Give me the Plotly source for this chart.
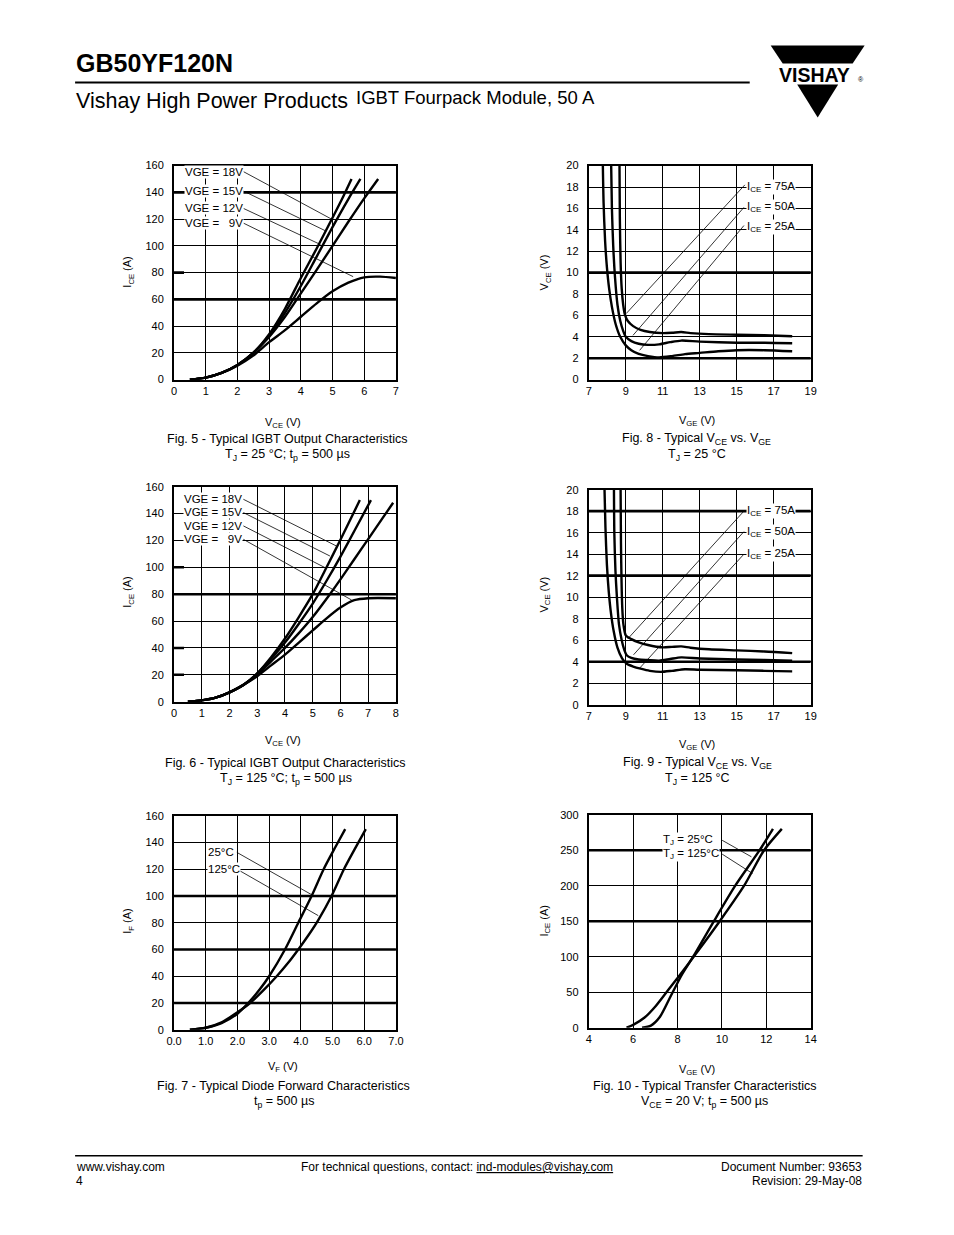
import plotly.graph_objects as go

W, H = 938, 1219
# measured mapping between figure pixels and the photographed page
SX, SY, OFF = 0.9835, 0.99, 8
DY = 2.5
FONT = "Liberation Sans, Arial, Helvetica, sans-serif"

# ---------------- data ----------------
# Fig 5: IGBT output, Tj = 25 C
f5_vce = {
    "18V": [0.5, 1.0, 1.5, 2.0, 2.5, 3.0, 3.5, 4.0, 4.5, 5.0, 5.3, 5.6],
    "15V": [0.5, 1.0, 1.5, 2.0, 2.5, 3.0, 3.5, 4.0, 4.5, 5.0, 5.5, 5.88],
    "12V": [0.5, 1.0, 1.5, 2.0, 2.5, 3.0, 3.5, 4.0, 4.5, 5.0, 5.5, 6.0, 6.44],
    "9V":  [0.5, 1.0, 1.5, 2.0, 2.5, 3.0, 3.5, 4.0, 4.5, 5.0, 5.5, 6.0, 6.5, 7.0],
}
f5_ice = {
    "18V": [0, 1.5, 5, 11, 20, 34, 53, 76, 98, 121, 135, 150],
    "15V": [0, 1.5, 5, 11, 20, 33, 50, 70, 92, 114, 135, 150],
    "12V": [0, 1.5, 5, 11, 20, 32, 47, 64.5, 82, 100, 118, 135.5, 150],
    "9V":  [0, 1.5, 5, 10.5, 18, 28, 37, 47, 57, 66, 72.5, 76.5, 77, 76],
}
# Fig 6: IGBT output, Tj = 125 C
f6_vce = {
    "18V": [0.5, 1.0, 1.5, 2.0, 2.5, 3.0, 3.5, 4.0, 4.5, 5.0, 5.5, 6.0, 6.7],
    "15V": [0.5, 1.0, 1.5, 2.0, 2.5, 3.0, 3.5, 4.0, 4.5, 5.0, 5.5, 6.0, 6.5, 7.1],
    "12V": [0.5, 1.0, 1.5, 2.0, 2.5, 3.0, 3.5, 4.0, 4.5, 5.0, 5.62, 6.0, 6.5, 7.0, 7.5, 7.9],
    "9V":  [0.5, 1.0, 1.5, 2.0, 2.5, 3.0, 3.5, 4.0, 4.5, 5.0, 5.5, 6.0, 6.5, 7.0, 8.0],
}
f6_ice = {
    "18V": [0, 1, 3, 7, 12.5, 21, 33, 47, 63, 80, 100, 120.5, 150],
    "15V": [0, 1, 3, 7, 12.5, 21, 32, 44, 58, 73, 90, 108, 127, 150],
    "12V": [0, 1, 3, 7, 12.5, 20, 30, 40, 51, 63, 80, 91, 106, 121, 136, 148],
    "9V":  [0, 1, 3, 7, 12.5, 19, 27, 35, 44, 53, 62, 70, 75.5, 77, 77],
}
# Fig 7: diode forward
f7_vf = {
    "25°C":  [0.5, 1.0, 1.5, 2.0, 2.34, 2.7, 3.0, 3.5, 3.92, 4.34, 4.72, 5.1, 5.4],
    "125°C": [0.5, 1.0, 1.5, 2.0, 2.4, 2.8, 3.24, 3.6, 3.92, 4.25, 4.55, 4.97, 5.36, 5.7, 6.05],
}
f7_if = {
    "25°C":  [0, 1.5, 5, 12, 20, 30, 40, 60, 80, 100, 120, 137, 150],
    "125°C": [0, 1.5, 5.5, 13, 20, 29, 40, 50, 60, 71, 82, 100, 120, 135, 150],
}
# Fig 8: VCE vs VGE, Tj = 25 C
f8_vge = {
    "75A": [8.66, 8.68, 8.72, 8.78, 8.86, 8.95, 9.1, 9.4, 9.8, 10.3, 11, 11.5, 12, 12.5, 13.5, 15, 16.5, 18],
    "50A": [8.21, 8.25, 8.32, 8.42, 8.55, 8.7, 8.85, 9.0, 9.3, 9.7, 10.2, 10.8, 11.4, 12, 13, 15, 16.5, 18],
    "25A": [7.76, 7.8, 7.88, 7.98, 8.1, 8.25, 8.45, 8.7, 9.0, 9.3, 9.7, 10.2, 10.8, 11.5, 12.2, 13, 14, 15, 16.5, 18],
}
f8_vce = {
    "75A": [20, 15, 11, 8.5, 7, 6.1, 5.5, 5.0, 4.65, 4.45, 4.35, 4.38, 4.45, 4.35, 4.25, 4.2, 4.15, 4.05],
    "50A": [20, 16, 12.5, 9.5, 7, 5.5, 4.6, 4.0, 3.6, 3.35, 3.25, 3.3, 3.5, 3.65, 3.55, 3.45, 3.45, 3.4],
    "25A": [20, 16.5, 13, 10.5, 8.5, 6.8, 5.2, 4.0, 3.2, 2.75, 2.4, 2.2, 2.08, 2.2, 2.38, 2.5, 2.65, 2.75, 2.75, 2.65],
}
# Fig 9: VCE vs VGE, Tj = 125 C
f9_vge = {
    "75A": [8.72, 8.74, 8.77, 8.81, 8.87, 9.0, 9.3, 9.7, 10.2, 11, 11.5, 12, 12.5, 13.5, 15, 16.5, 18],
    "50A": [8.36, 8.38, 8.44, 8.52, 8.63, 8.78, 8.92, 9.05, 9.3, 9.7, 10.2, 10.8, 11.4, 12, 13, 15, 16.5, 18],
    "25A": [7.85, 7.9, 7.98, 8.08, 8.2, 8.35, 8.55, 8.8, 9.05, 9.4, 9.8, 10.3, 10.9, 11.5, 12.2, 13, 15, 16.5, 18],
}
f9_vce = {
    "75A": [20, 15, 11.5, 9, 7.5, 6.45, 6.1, 5.8, 5.55, 5.33, 5.38, 5.42, 5.3, 5.15, 5.05, 4.95, 4.8],
    "50A": [20, 16, 12.5, 10, 7.5, 6, 5.1, 4.6, 4.35, 4.2, 4.15, 4.1, 4.25, 4.4, 4.3, 4.2, 4.15, 4.1],
    "25A": [20, 16.5, 13, 10.5, 8.5, 6.8, 5.3, 4.3, 3.8, 3.55, 3.35, 3.15, 3.05, 3.15, 3.3, 3.25, 3.2, 3.15, 3.1],
}
# Fig 10: transfer characteristics
f10_vge = {
    "25°C":  [6.4, 6.8, 7.2, 7.7, 8.2, 8.8, 9.6, 10.6, 11.7, 12.3],
    "125°C": [5.7, 6.0, 6.5, 7.0, 7.5, 8.0, 8.8, 9.9, 11.0, 11.9, 12.7],
}
f10_ice = {
    "25°C":  [0, 3, 15, 45, 75, 105, 148, 200, 250, 280],
    "125°C": [0, 4, 14, 30, 50, 70, 103, 150, 200, 250, 280],
}

# axis ranges / tick steps per figure number
x_ranges = {5: [0, 7], 6: [0, 8], 7: [0, 7], 8: [7, 19], 9: [7, 19], 10: [4, 14]}
x_dticks = {5: 1, 6: 1, 7: 1, 8: 2, 9: 2, 10: 2}
y_ranges = {5: [0, 160], 6: [0, 160], 7: [0, 160], 8: [0, 20], 9: [0, 20], 10: [0, 300]}
y_dticks = {5: 20, 6: 20, 7: 20, 8: 2, 9: 2, 10: 50}
thick_y = {5: [60, 140], 6: [80], 7: [20, 60, 100], 8: [2, 10], 9: [4, 12, 18], 10: [150, 250]}
stub_y = {5: [80], 6: [100, 40, 20]}

# curve labels and leader lines (label end -> curve point)
f5_labels = ["VGE = 18V", "VGE = 15V", "VGE = 12V", "VGE =\u00a0\u00a0\u00a09V"]
f5_label_y = [155, 141, 128, 117]
f5_leader = [((2.19, 155.5), (4.97, 120)), ((2.19, 141), (4.8, 111)),
             ((2.19, 128), (4.62, 101)), ((2.19, 117), (5.65, 77))]
f6_labels = f5_labels
f6_label_y = [151, 141, 131, 121]
f6_leader = [((2.5, 150.6), (5.84, 116)), ((2.5, 140.7), (5.62, 108.4)),
             ((2.5, 130.8), (5.44, 99.8)), ((2.5, 120.8), (6.4, 75.7))]
f8_labels = ["I<sub>CE</sub> = 75A", "I<sub>CE</sub> = 50A", "I<sub>CE</sub> = 25A"]
f8_label_y = [18.0, 16.1, 14.3]
f8_leader = [((15.44, 18.2), (9.02, 6.17)), ((15.39, 16.1), (9.39, 4.14)), ((15.39, 14.4), (9.75, 2.74))]
f9_label_y = [18.0, 16.1, 14.0]
f9_leader = [((15.44, 18.1), (9.11, 6.13)), ((15.39, 16.1), (9.42, 4.64)), ((15.39, 14.0), (9.75, 3.4))]
f7_labels = ["25°C", "125°C"]
f7_label_y = [133, 120]
f7_leader = [((1.98, 132.6), (4.36, 100.7)), ((1.98, 120.1), (4.55, 85.3))]
f10_labels = ["T<sub>J</sub> = 25°C", "T<sub>J</sub> = 125°C"]
f10_label_y = [264, 245]
f10_leader = [((10.01, 264), (11.33, 240.7)), ((10.01, 244.5), (11.38, 217.2))]

# ---------------- layout helpers (page pixels -> paper fraction) ----------------
def px(x):
    return (x / SX - OFF) / W

def py(y):
    return 1 - ((y + DY) / SY - OFF) / H

# plot-area boxes on the page: (left, right, top, bottom)
boxes = {5: (174, 396, 165, 379), 8: (589, 811, 165, 379),
         6: (174, 396, 486, 701), 9: (589, 811, 489, 704),
         7: (174, 396, 815, 1029), 10: (589, 811, 814, 1027)}
axis_index = {5: 1, 8: 2, 6: 3, 9: 4, 7: 5, 10: 6}

fig = go.Figure()
layout = dict(width=W, height=H, margin=dict(l=0, r=0, t=0, b=0),
              paper_bgcolor="white", plot_bgcolor="white", showlegend=False)
shapes, annotations = [], []

for f, (l, r, t, b) in boxes.items():
    i = axis_index[f]
    xs = "xaxis" if i == 1 else f"xaxis{i}"
    ys = "yaxis" if i == 1 else f"yaxis{i}"
    yref = "y" if i == 1 else f"y{i}"
    xref = "x" if i == 1 else f"x{i}"
    layout[xs] = dict(domain=[px(l), px(r)], range=x_ranges[f], tick0=x_ranges[f][0],
                      dtick=x_dticks[f], showgrid=True, gridcolor="black", gridwidth=1,
                      zeroline=False, showline=True, mirror=True, linecolor="black",
                      linewidth=2, ticks="", anchor=yref, fixedrange=True,
                      tickfont=dict(family=FONT, size=11, color="black"),
                      tickformat=".1f" if f == 7 else None)
    layout[ys] = dict(domain=[py(b), py(t)], range=y_ranges[f], tick0=0, dtick=y_dticks[f],
                      showgrid=True, gridcolor="black", gridwidth=1, zeroline=False,
                      showline=True, mirror=True, linecolor="black", linewidth=2,
                      ticks="", anchor=xref, fixedrange=True, ticklabelstandoff=6,
                      tickfont=dict(family=FONT, size=11, color="black"))
    for v in thick_y.get(f, []):
        shapes.append(dict(type="line", xref=f"{xref} domain", yref=yref, x0=0, x1=1,
                           y0=v, y1=v, line=dict(color="black", width=2.6), layer="below"))
    for v in stub_y.get(f, []):
        shapes.append(dict(type="line", xref=f"{xref} domain", yref=yref, x0=0, x1=0.045,
                           y0=v, y1=v, line=dict(color="black", width=2.6), layer="below"))

def add_curves(xd, yd, idx):
    xref = "x" if idx == 1 else f"x{idx}"
    yref = "y" if idx == 1 else f"y{idx}"
    for k in xd:
        fig.add_trace(go.Scatter(x=xd[k], y=yd[k], mode="lines", xaxis=xref, yaxis=yref,
                                 line=dict(color="black", width=2.4, shape="spline", smoothing=0.7),
                                 hoverinfo="skip"))

add_curves(f5_vce, f5_ice, 1)
add_curves(f8_vge, f8_vce, 2)
add_curves(f6_vce, f6_ice, 3)
add_curves(f9_vge, f9_vce, 4)
add_curves(f7_vf, f7_if, 5)
add_curves(f10_vge, f10_ice, 6)

def add_labels(idx, labels, ys, x_left, leaders):
    xref = "x" if idx == 1 else f"x{idx}"
    yref = "y" if idx == 1 else f"y{idx}"
    for (a, bpt) in leaders:
        shapes.append(dict(type="line", xref=xref, yref=yref, x0=a[0], y0=a[1],
                           x1=bpt[0], y1=bpt[1], line=dict(color="black", width=0.8)))
    for txt, yv in zip(labels, ys):
        annotations.append(dict(xref=xref, yref=yref, x=x_left, y=yv, text=txt,
                                showarrow=False, xanchor="left", yanchor="middle",
                                bgcolor="white", borderpad=0,
                                font=dict(family=FONT, size=11.5, color="black")))

add_labels(1, f5_labels, f5_label_y, 0.3, f5_leader)
add_labels(3, f6_labels, f6_label_y, 0.33, f6_leader)
add_labels(2, f8_labels, f8_label_y, 15.5, f8_leader)
add_labels(4, f8_labels, f9_label_y, 15.5, f9_leader)
add_labels(5, f7_labels, f7_label_y, 1.05, f7_leader)
add_labels(6, f10_labels, f10_label_y, 7.3, f10_leader)

def ptext(x, y, text, size, anchor="center", angle=0):
    annotations.append(dict(xref="paper", yref="paper", x=px(x), y=py(y), text=text,
                            showarrow=False, xanchor=anchor, yanchor="middle", textangle=angle,
                            borderpad=0,
                            font=dict(family=FONT, size=size, color="black")))

# axis titles
ptext(128, 272, "I<sub>CE</sub> (A)", 11, angle=-90)
ptext(283, 422, "V<sub>CE</sub> (V)", 11)
ptext(545, 272, "V<sub>CE</sub> (V)", 11, angle=-90)
ptext(697, 420, "V<sub>GE</sub> (V)", 11)
ptext(128, 592, "I<sub>CE</sub> (A)", 11, angle=-90)
ptext(283, 740, "V<sub>CE</sub> (V)", 11)
ptext(545, 594, "V<sub>CE</sub> (V)", 11, angle=-90)
ptext(697, 744, "V<sub>GE</sub> (V)", 11)
ptext(128, 920, "I<sub>F</sub> (A)", 11, angle=-90)
ptext(283, 1066, "V<sub>F</sub> (V)", 11)
ptext(545, 920, "I<sub>CE</sub> (A)", 11, angle=-90)
ptext(697, 1069, "V<sub>GE</sub> (V)", 11)

# captions
CAP = 12.5
ptext(288, 438, "Fig. 5 - Typical IGBT Output Characteristics", CAP)
ptext(288, 454, "T<sub>J</sub> = 25 °C; t<sub>p</sub> = 500 µs", CAP)
ptext(697, 438, "Fig. 8 - Typical V<sub>CE</sub> vs. V<sub>GE</sub>", CAP)
ptext(697, 454, "T<sub>J</sub> = 25 °C", CAP)
ptext(286, 762, "Fig. 6 - Typical IGBT Output Characteristics", CAP)
ptext(286, 778, "T<sub>J</sub> = 125 °C; t<sub>p</sub> = 500 µs", CAP)
ptext(698, 762, "Fig. 9 - Typical V<sub>CE</sub> vs. V<sub>GE</sub>", CAP)
ptext(698, 778, "T<sub>J</sub> = 125 °C", CAP)
ptext(284, 1085, "Fig. 7 - Typical Diode Forward Characteristics", CAP)
ptext(284, 1101, "t<sub>p</sub> = 500 µs", CAP)
ptext(705, 1085, "Fig. 10 - Typical Transfer Characteristics", CAP)
ptext(705, 1101, "V<sub>CE</sub> = 20 V; t<sub>p</sub> = 500 µs", CAP)

# header
ptext(75, 62, "<b>GB50YF120N</b>", 25, anchor="left")
ptext(75, 100, "Vishay High Power Products", 21.5, anchor="left")
ptext(355, 97, "IGBT Fourpack Module, 50 A", 18.5, anchor="left")
shapes.append(dict(type="line", xref="paper", yref="paper", x0=px(75), x1=px(750),
                   y0=py(82), y1=py(82), line=dict(color="black", width=2)))
# logo
def P(x, y):
    return f"{px(x):.5f},{py(y):.5f}"
shapes.append(dict(type="path", xref="paper", yref="paper",
                   path=f"M {P(771,45)} L {P(865,45)} L {P(853,63)} L {P(783,63)} Z",
                   fillcolor="black", line=dict(width=0)))
shapes.append(dict(type="path", xref="paper", yref="paper",
                   path=f"M {P(797.5,84)} L {P(838.5,84)} L {P(818,117)} Z",
                   fillcolor="black", line=dict(width=0)))
ptext(815, 74, "<b>VISHAY</b>", 19.5)
ptext(861, 79, "®", 7)

# footer
shapes.append(dict(type="line", xref="paper", yref="paper", x0=px(75), x1=px(863),
                   y0=py(1155), y1=py(1155), line=dict(color="black", width=1.5)))
FT = 12
ptext(75, 1166, "www.vishay.com", FT, anchor="left")
ptext(75, 1180, "4", FT, anchor="left")
ptext(457, 1166, "For technical questions, contact: <u>ind-modules@vishay.com</u>", FT)
ptext(863, 1166, "Document Number: 93653", FT, anchor="right")
ptext(863, 1180, "Revision: 29-May-08", FT, anchor="right")

layout["shapes"] = shapes
layout["annotations"] = annotations
fig.update_layout(**layout)
fig.write_html("out.html")
